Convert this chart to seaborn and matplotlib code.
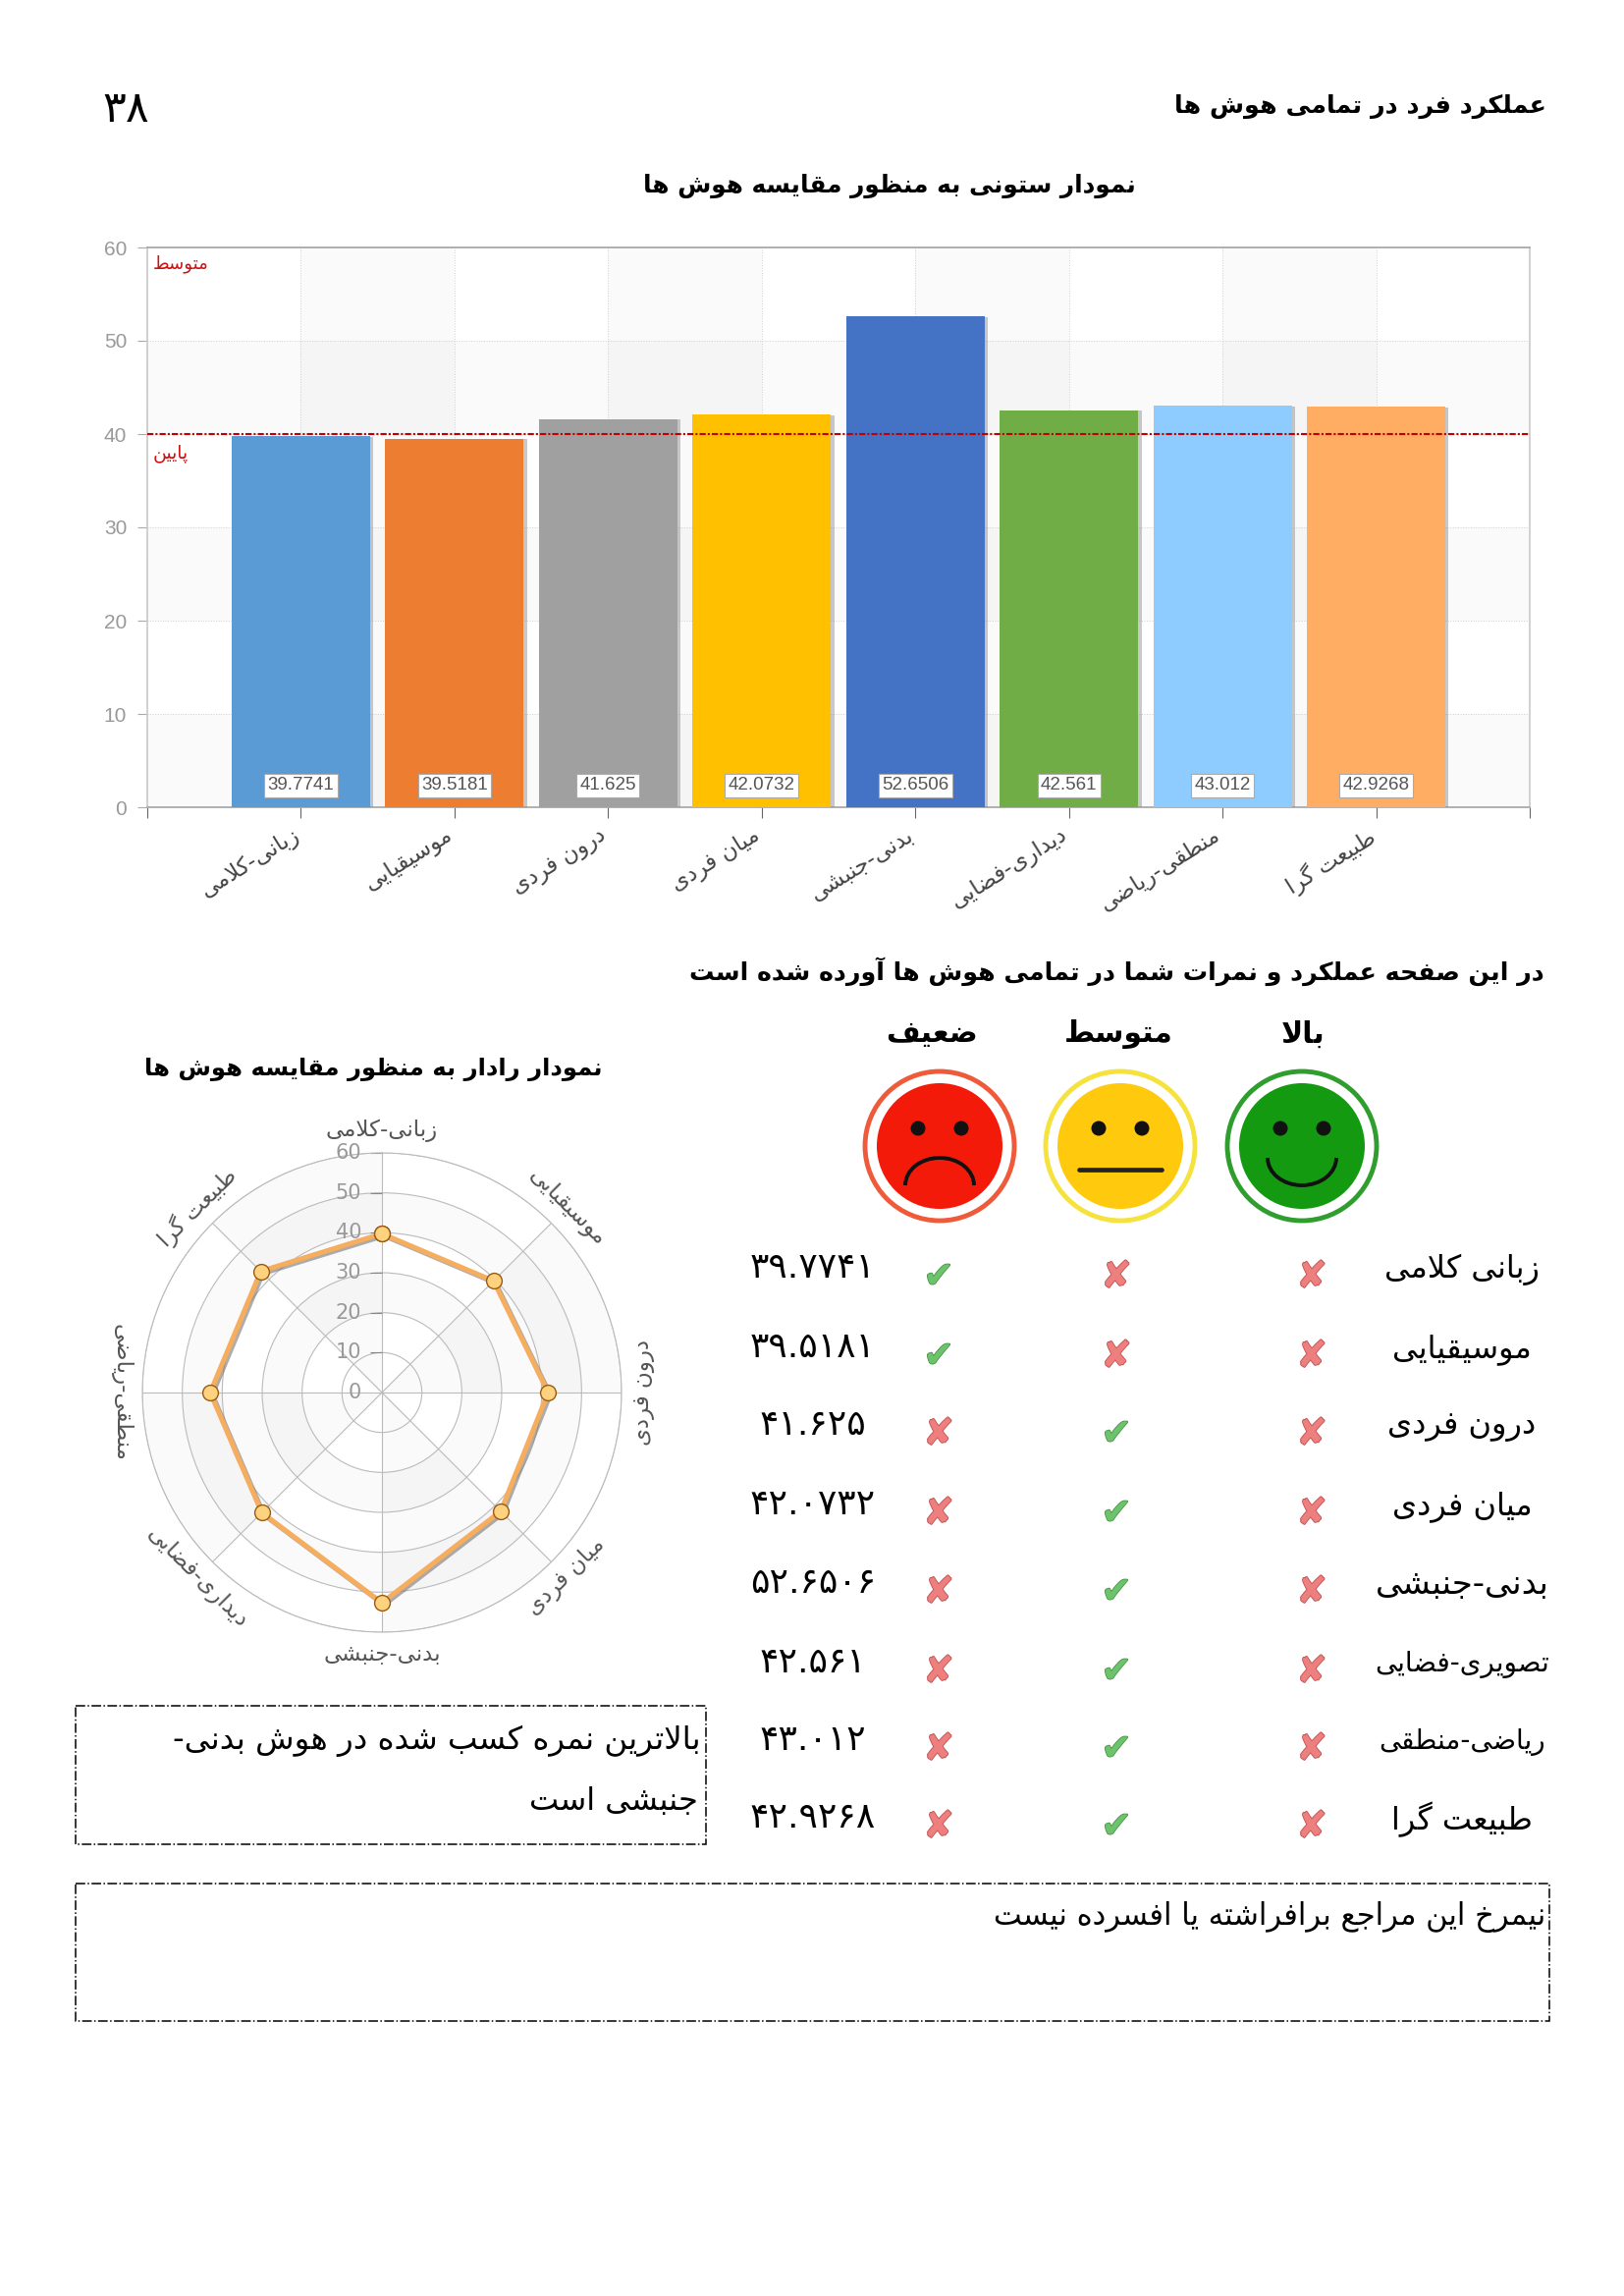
import numpy as np
import pandas as pd
import matplotlib
matplotlib.use('Agg')
import matplotlib.pyplot as plt
import matplotlib.patheffects as pe
from matplotlib.patches import Circle, Arc, Rectangle
from matplotlib.transforms import ScaledTranslation
import seaborn as sns

# Data
bar_labels = ['زبانی-کلامی', 'موسیقیایی', 'درون فردی', 'میان فردی', 'بدنی-جنبشی', 'دیداری-فضایی', 'منطقی-ریاضی', 'طبیعت گرا']
table_labels = ['زبانی کلامی', 'موسیقیایی', 'درون فردی', 'میان فردی', 'بدنی-جنبشی', 'تصویری-فضایی', 'ریاضی-منطقی', 'طبیعت گرا']
scores = [39.7741, 39.5181, 41.625, 42.0732, 52.6506, 42.561, 43.012, 42.9268]
score_text = ['39.7741', '39.5181', '41.625', '42.0732', '52.6506', '42.561', '43.012', '42.9268']
levels = ['low', 'low', 'mid', 'mid', 'mid', 'mid', 'mid', 'mid']
bar_colors = ['#5b9bd5', '#ed7d31', '#a0a0a0', '#ffc000', '#4472c4', '#70ad47', '#8ecbff', '#ffad62']

W, H = 1654, 2338

# Contextual forms: isolated, final, initial, medial
FORMS = {
    'ا': 'ﺍﺎ', 'آ': 'ﺁﺂ', 'د': 'ﺩﺪ', 'ذ': 'ﺫﺬ', 'ر': 'ﺭﺮ', 'ز': 'ﺯﺰ', 'ژ': 'ﮊﮋ', 'و': 'ﻭﻮ',
    'ب': 'ﺏﺐﺑﺒ', 'پ': 'ﭖﭗﭘﭙ', 'ت': 'ﺕﺖﺗﺘ', 'ث': 'ﺙﺚﺛﺜ', 'ج': 'ﺝﺞﺟﺠ', 'چ': 'ﭺﭻﭼﭽ',
    'ح': 'ﺡﺢﺣﺤ', 'خ': 'ﺥﺦﺧﺨ', 'س': 'ﺱﺲﺳﺴ', 'ش': 'ﺵﺶﺷﺸ', 'ص': 'ﺹﺺﺻﺼ', 'ض': 'ﺽﺾﺿﻀ',
    'ط': 'ﻁﻂﻃﻄ', 'ظ': 'ﻅﻆﻇﻈ', 'ع': 'ﻉﻊﻋﻌ', 'غ': 'ﻍﻎﻏﻐ', 'ف': 'ﻑﻒﻓﻔ', 'ق': 'ﻕﻖﻗﻘ',
    'ک': 'ﮎﮏﮐﮑ', 'گ': 'ﮒﮓﮔﮕ', 'ل': 'ﻝﻞﻟﻠ', 'م': 'ﻡﻢﻣﻤ', 'ن': 'ﻥﻦﻧﻨ', 'ه': 'ﻩﻪﻫﻬ', 'ی': 'ﯼﯽﯾﯿ',
}


# matplotlib 3.10 does no shaping, so join the letters and flip the order
def fa(text):
    out = []
    i = 0
    while i < len(text):
        c = text[i]
        if c not in FORMS:
            out.append(c)
            i += 1
            continue
        prev_joins = i > 0 and len(FORMS.get(text[i - 1], '')) == 4
        nxt = text[i + 1] if i + 1 < len(text) else ''
        if c == 'ل' and nxt == 'ا':
            out.append('ﻼ' if prev_joins else 'ﻻ')
            i += 2
            continue
        next_joins = len(FORMS[c]) == 4 and nxt in FORMS
        if prev_joins:
            out.append(FORMS[c][3 if next_joins else 1])
        else:
            out.append(FORMS[c][2 if next_joins else 0])
        i += 1
    return ''.join(out)[::-1]


def fa_num(text):
    return text.translate(str.maketrans('0123456789', '۰۱۲۳۴۵۶۷۸۹'))


def axes_px(left, top, right, bottom, **kw):
    return fig.add_axes([left / W, 1 - bottom / H, (right - left) / W, (bottom - top) / H], **kw)


sns.set_theme(style='white')
plt.rcParams['font.family'] = ['DejaVu Sans']

fig = plt.figure(figsize=(W / 100, H / 100), dpi=100, facecolor='white')

# Bar chart
ax = axes_px(150, 252, 1558, 822)
df = pd.DataFrame({'label': bar_labels, 'score': scores})
for lo in [0, 20, 40]:
    ax.axhspan(lo, lo + 10, color='black', alpha=0.02, lw=0, zorder=0)
for pos in range(0, 8, 2):
    ax.axvspan(pos, pos + 1, color='black', alpha=0.02, lw=0, zorder=0)
sns.barplot(data=df, x='label', y='score', hue='label', palette=bar_colors, width=0.9,
            legend=False, saturation=1, ax=ax, zorder=3, linewidth=0)
for container in ax.containers:
    for bar in container:
        bar.set_path_effects([pe.SimplePatchShadow(offset=(2.5, -0.5), shadow_rgbFace='#888888', alpha=0.45), pe.Normal()])
ax.set_xlim(-1, 8)
ax.set_ylim(0, 60)
ax.set_xlabel('')
ax.set_ylabel('')
ax.set_yticks(range(0, 61, 10))
ax.set_xticks(range(8), labels=[fa(t) for t in bar_labels], rotation=32, ha='right', va='top',
              rotation_mode='anchor', fontsize=16.5, color='#444444')
ax.set_xticks([-1, 8], minor=True)
ax.tick_params(axis='x', which='both', length=8, width=0.8, color='#666666', bottom=True, pad=5)
ax.tick_params(axis='y', length=7, width=0.8, color='#aaaaaa', left=True, pad=8)
shift = ScaledTranslation(-0.1, 0.01, fig.dpi_scale_trans)
for t in ax.get_xticklabels():
    t.set_transform(t.get_transform() + shift)
for t in ax.get_yticklabels():
    t.set_fontfamily('Liberation Sans')
    t.set_fontsize(15)
    t.set_color('#999999')
ax.grid(True, axis='both', which='both', color='#cfcfcf', lw=0.7, ls=':', zorder=1)
ax.set_axisbelow(True)
ax.spines['top'].set_color('#aaaaaa')
ax.spines['top'].set_linewidth(1.3)
ax.spines['bottom'].set_color('#aaaaaa')
ax.spines['bottom'].set_linewidth(1.3)
ax.spines['left'].set_color('#cccccc')
ax.spines['right'].set_color('#cccccc')
ax.axhline(40, color='#c00000', lw=1.5, ls=(0, (3, 1, 1, 1)), zorder=5)
for i, txt in enumerate(score_text):
    ax.annotate(txt, (i, 0), xytext=(0, 16), textcoords='offset points', ha='center', va='center',
                fontsize=13.5, fontfamily='Liberation Sans', color='#555555', zorder=6,
                bbox=dict(boxstyle='square,pad=0.18', fc='white', ec='#aaaaaa', lw=0.8))
ax.text(0.004, 0.97, fa('متوسط'), transform=ax.transAxes, color='#d01010', fontsize=13, ha='left', va='center')
ax.text(0.004, 0.633, fa('پایین'), transform=ax.transAxes, color='#d01010', fontsize=13.5, ha='left', va='center')

# Radar chart
radar = axes_px(145, 1174, 633, 1662, polar=True)
radar.set_theta_zero_location('N')
radar.set_theta_direction(-1)
angles = np.deg2rad(np.arange(0, 360, 45))
for start in [45, 135, 225, 315]:
    radar.bar(np.deg2rad(start + 22.5), 60, width=np.pi / 4, color='black', alpha=0.02, lw=0, zorder=0)
for lo in [20, 40]:
    radar.bar(0, 10, width=2 * np.pi, bottom=lo, color='black', alpha=0.02, lw=0, zorder=0)
radar.set_ylim(0, 60)
radar.set_xticks(angles, labels=[])
radar.set_yticks(range(10, 61, 10), labels=[])
radar.grid(True, color='#bbbbbb', lw=0.8)
radar.spines['polar'].set_color('#bbbbbb')
radar.spines['polar'].set_linewidth(0.8)
radar.set_facecolor('white')
loop = pd.DataFrame({'theta': np.append(angles, 2 * np.pi), 'score': scores + scores[:1]})
sns.lineplot(data=loop, x='theta', y='score', sort=False, estimator=None, ax=radar, color='#f6ad5e', lw=3.6,
             zorder=4, path_effects=[pe.SimpleLineShadow(offset=(1.5, -1.5), shadow_color='#777777', alpha=0.6), pe.Normal()])
sns.scatterplot(data=loop, x='theta', y='score', ax=radar, s=130, color='#ffd27f', edgecolor='#9a5a10', linewidth=1, zorder=5)
radar.set_xlabel('')
radar.set_ylabel('')
radar.set_ylim(0, 60)
radar.plot([0] * 6, range(10, 61, 10), ls='', marker=0, ms=9, mew=0.8, color='#888888', clip_on=False)
for r in range(0, 61, 10):
    radar.annotate(str(r), (0, r), xytext=(-15, 0), textcoords='offset points', ha='right', va='center',
                   fontsize=15, color='#999999', annotation_clip=False)
radar_rotation = [0, -45, 90, 45, 0, -45, -90, 45]
for a, lab, rot in zip(angles, bar_labels, radar_rotation):
    radar.text(a, 65.5, fa(lab), rotation=rot, rotation_mode='anchor', ha='center', va='center',
               fontsize=16.5, color='#555555', clip_on=False)

# Page overlay, in pixels
page = fig.add_axes([0, 0, 1, 1], facecolor='none')
page.set_xlim(0, W)
page.set_ylim(H, 0)
page.axis('off')


def put(text, x, y, size, ha='center', weight='normal', **kw):
    page.text(x, y, text, fontsize=size, ha=ha, va='center', fontweight=weight, color=kw.pop('color', 'black'), **kw)


put(fa('عملکرد فرد در تمامی هوش ها'), 1575, 108, 18.3, ha='right', weight='bold')
put(fa_num('38'), 128, 112, 32)
put(fa('نمودار ستونی به منظور مقایسه هوش ها'), 906, 189, 17.8, weight='bold')
put(fa('در این صفحه عملکرد و نمرات شما در تمامی هوش ها آورده شده است'), 1573, 989, 18.2, ha='right', weight='bold')
put(fa('نمودار رادار به منظور مقایسه هوش ها'), 380, 1089, 17.5, weight='bold')

face_x = {'high': 1326, 'mid': 1141, 'low': 957}
header_x = {'high': 1327, 'mid': 1139, 'low': 949}
headers = {'high': 'بالا', 'mid': 'متوسط', 'low': 'ضعیف'}
face_fill = {'high': '#149a10', 'mid': '#ffc90e', 'low': '#f41a0a'}
face_ring = {'high': '#2f9e2f', 'mid': '#f5e23c', 'low': '#ee5a3a'}
face_y = 1167
for key in face_x:
    cx = face_x[key]
    put(fa(headers[key]), header_x[key], 1053, 21.5, weight='bold')
    page.add_patch(Circle((cx, face_y), 76, fc='white', ec=face_ring[key], lw=3.5))
    page.add_patch(Circle((cx, face_y), 64, fc=face_fill[key], ec='none'))
    for dx in (-22, 22):
        page.add_patch(Circle((cx + dx, face_y - 18), 7.5, fc='#111111', ec='none'))
    if key == 'high':
        page.add_patch(Arc((cx, face_y + 12), 70, 56, theta1=0, theta2=180, ec='#111111', lw=2.8))
    elif key == 'low':
        page.add_patch(Arc((cx, face_y + 40), 70, 56, theta1=180, theta2=360, ec='#111111', lw=2.8))
    else:
        page.plot([cx - 42, cx + 42], [face_y + 24, face_y + 24], color='#222222', lw=3.4)

row_y = [1297, 1378, 1457, 1538, 1618, 1699, 1778, 1857]
row_size = [23, 23, 23, 23, 24.5, 20, 20, 23]
mark_x = {'high': 1336, 'mid': 1137, 'low': 956}
outline = [pe.withStroke(linewidth=1.2, foreground='#c05050')]
outline_ok = [pe.withStroke(linewidth=1.0, foreground='#3c8c3c')]
for lab, txt, level, y, size in zip(table_labels, score_text, levels, row_y, row_size):
    put(fa(lab), 1489, y - 4, size)
    put(fa_num(txt), 828, y - 6, 26)
    for col, xpos in mark_x.items():
        if col == level:
            put('✔', xpos, y + 4, 27, color='#6cc36c', path_effects=outline_ok)
        else:
            put('✘', xpos, y + 4, 27, color='#ee7f7f', path_effects=outline)

# Dashed note boxes
page.add_patch(Rectangle((77, 1737), 642, 141, fc='none', ec='black', lw=1.1, ls='-.'))
page.add_patch(Rectangle((77, 1918), 1501, 140, fc='none', ec='black', lw=1.1, ls='-.'))
put(fa('بالاترین نمره کسب شده در هوش بدنی-'), 714, 1773, 23.3, ha='right')
put(fa('جنبشی است'), 711, 1835, 23, ha='right')
put(fa('نیمرخ این مراجع برافراشته یا افسرده نیست'), 1574, 1952, 22, ha='right')

fig.savefig('out.png', dpi=100)
